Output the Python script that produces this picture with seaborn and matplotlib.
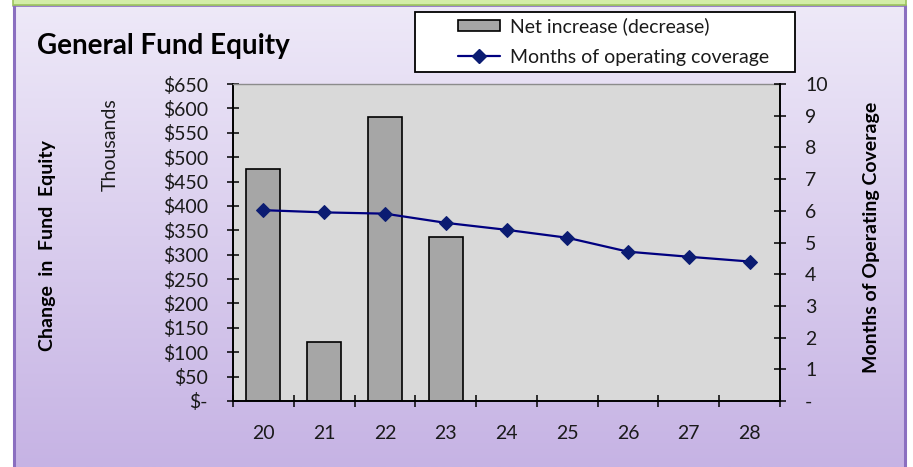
import numpy as np
import pandas as pd
import matplotlib
matplotlib.use("Agg")
import matplotlib.pyplot as plt
import seaborn as sns
from matplotlib.patches import Patch, Rectangle
from matplotlib.lines import Line2D
from matplotlib.ticker import FuncFormatter

# Fiscal years shown on the category axis
years = ["20", "21", "22", "23", "24", "25", "26", "27", "28"]
# Net increase (decrease) in fund equity, thousands of dollars
net_change = [475, 121, 583, 336]
# Months of operating coverage
coverage = [6.02, 5.95, 5.91, 5.62, 5.40, 5.15, 4.71, 4.55, 4.40]

W, H = 913, 467
FONT = ["Lato", "DejaVu Sans"]
FS = 14

sns.set_theme(style="white")
plt.rcParams["font.family"] = FONT

fig = plt.figure(figsize=(W / 100, H / 100), dpi=100)
fig.patch.set_facecolor("white")

# --- panel background: lavender gradient, purple border, green header strip
bg = fig.add_axes([0, 0, 1, 1], zorder=-10)
bg.set_xlim(0, W)
bg.set_ylim(H, 0)
bg.axis("off")
grad = np.linspace(0, 1, 256)[:, None]
top_c = np.array([0xee, 0xe9, 0xf8]) / 255
bot_c = np.array([0xc6, 0xb3, 0xe4]) / 255
img = top_c[None, None, :] * (1 - grad[:, :, None]) + bot_c[None, None, :] * grad[:, :, None]
bg.imshow(img, extent=[13, 906, H, 5], aspect="auto", zorder=0)
bg.plot([14, 14], [5, H], color="#8b6fc0", lw=2.2, zorder=2)
bg.plot([905, 905], [5, H], color="#8b6fc0", lw=2.2, zorder=2)
bg.plot([13, 906], [5.5, 5.5], color="#8b6fc0", lw=1.2, zorder=2)
bg.add_patch(Rectangle((13, -2), 893, 6.5, facecolor="#d3eda8", edgecolor="#9cc45e", lw=1.2, zorder=3))

# --- main axes
ax = fig.add_axes([233 / W, (H - 401) / H, 547 / W, 317 / H])
ax.set_facecolor("#d9d9d9")

df_bar = pd.DataFrame({"year": years[:len(net_change)], "value": net_change})
sns.barplot(data=df_bar, x="year", y="value", order=years, ax=ax,
            color="#a6a6a6", saturation=1, width=0.56,
            edgecolor="black", linewidth=1.2, zorder=2)

ax.set_xlim(-0.5, len(years) - 0.5)
ax.set_ylim(0, 650)
ax.set_yticks(np.arange(0, 651, 50))
ax.yaxis.set_major_formatter(FuncFormatter(lambda v, p: "$-" if v == 0 else f"${v:.0f}"))
ax.set_xlabel("")
ax.set_ylabel("")

# category boundaries carry the tick marks, labels sit at the centres
ax.set_xticks(np.arange(len(years)))
ax.set_xticklabels(years)
ax.set_xticks(np.arange(-0.5, len(years)), minor=True)
ax.tick_params(axis="x", which="major", length=0, pad=17, labelsize=FS, colors="#1a1a1a")
ax.tick_params(axis="x", which="minor", direction="inout", length=8, width=1.1, color="black", bottom=True)
ax.tick_params(axis="y", which="major", direction="inout", length=8, width=1.1, color="black",
               pad=14, labelsize=FS, labelcolor="#1a1a1a", left=True)

for side in ("left", "bottom"):
    ax.spines[side].set_color("black")
    ax.spines[side].set_linewidth(1.4)
ax.spines["top"].set_color("#8c8c8c")
ax.spines["top"].set_linewidth(1.0)
ax.spines["right"].set_visible(False)

# --- secondary axis: months of operating coverage
ax2 = ax.twinx()
ax2.patch.set_visible(False)
sns.lineplot(x=np.arange(len(years)), y=coverage, ax=ax2, color="#000080",
             linewidth=1.6, marker="D", markersize=7.5, markerfacecolor="#0b1c72",
             markeredgecolor="#0b1c72", zorder=4)
ax2.set_ylim(0, 10)
ax2.set_yticks(np.arange(0, 11, 1))
ax2.yaxis.set_major_formatter(FuncFormatter(lambda v, p: "-" if v == 0 else f"{v:.0f}"))
ax2.tick_params(axis="y", which="major", direction="inout", length=8, width=1.1, color="black",
                pad=14, labelsize=FS, labelcolor="#1a1a1a", right=True)
ax2.set_ylabel("")
for side in ("left", "top", "bottom"):
    ax2.spines[side].set_visible(False)
ax2.spines["right"].set_color("black")
ax2.spines["right"].set_linewidth(1.4)
ax.set_xlim(-0.5, len(years) - 0.5)

# --- texts
fig.text(37 / W, 1 - 46 / H, "General Fund Equity", fontsize=20, fontweight="bold",
         ha="left", va="center", color="black")
fig.text(47 / W, 1 - 246 / H, "Change  in  Fund  Equity", fontsize=FS, fontweight="bold",
         rotation=90, ha="center", va="center", color="black")
fig.text(110 / W, 1 - 145 / H, "Thousands", fontsize=FS, rotation=90,
         ha="center", va="center", color="#1a1a1a")
fig.text(871 / W, 1 - 237 / H, "Months of Operating Coverage", fontsize=FS, fontweight="bold",
         rotation=90, ha="center", va="center", color="black")

# --- legend box
bg.add_patch(Rectangle((415, 12), 380, 60, facecolor="white", edgecolor="black", lw=1.3, zorder=5))
handles = [
    Patch(facecolor="#a6a6a6", edgecolor="black", linewidth=1.2),
    Line2D([], [], color="#000080", linewidth=1.6, marker="D", markersize=7.5,
           markerfacecolor="#0b1c72", markeredgecolor="#0b1c72"),
]
leg = fig.legend(handles, ["Net increase (decrease)", "Months of operating coverage"],
                 loc="center left", bbox_to_anchor=(458 / W, 1 - 41.5 / H),
                 frameon=False, fontsize=FS, handlelength=2.15, handleheight=0.55,
                 handletextpad=0.5, labelspacing=0.68, borderpad=0, borderaxespad=0)
for t in leg.get_texts():
    t.set_color("#1a1a1a")

fig.savefig("out.png", dpi=100)
